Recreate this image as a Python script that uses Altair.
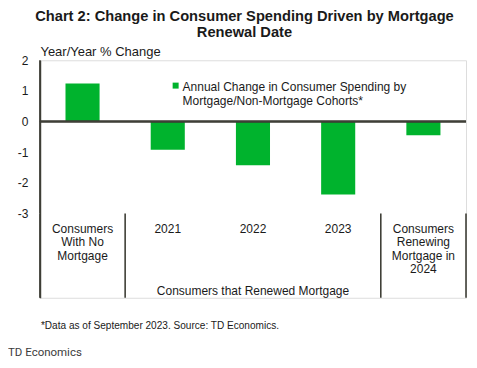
import altair as alt
import pandas as pd

# ---- data ----
CATEGORIES = ["Consumers\nWith No\nMortgage", "2021", "2022", "2023",
              "Consumers\nRenewing\nMortgage in\n2024"]
VALUES = [1.24, -0.92, -1.43, -2.38, -0.45]
SERIES = "Annual Change in Consumer Spending by|Mortgage/Non-Mortgage Cohorts*"
GROUP_LABEL = "Consumers that Renewed Mortgage"
GROUP_CENTER = "2022"
SEPARATORS = [0, 1, 4, 5]          # boundaries between category groups (index units)
Y_TICKS = [-3, -2, -1, 0, 1, 2]
TITLE = ["Chart 2: Change in Consumer Spending Driven by Mortgage", "Renewal Date"]
Y_TITLE = "Year/Year % Change"
FOOTNOTE = "*Data as of September 2023. Source: TD Economics."
SOURCE = "TD Economics"

# ---- style ----
FONT = "Liberation Sans, Arial, sans-serif"
GREEN = "#00b32d"
INK = "#1a1a1a"
LINE = "#3f3f37"
Y_MIN = -5.75
Y_MAX = 2
W, H = 427, 238

bars_df = pd.DataFrame({"cat": CATEGORIES, "value": VALUES, "series": [SERIES] * len(VALUES)})
labels_df = pd.DataFrame({"cat": CATEGORIES})
group_df = pd.DataFrame({"cat": [GROUP_CENTER], "text": [GROUP_LABEL]})
sep_df = pd.DataFrame({"pos": SEPARATORS})
axis_df = pd.DataFrame({"pos": [0]})

x_enc = alt.X("cat:N", sort=CATEGORIES,
              scale=alt.Scale(paddingInner=0.6, paddingOuter=0.3), axis=None)
pos_enc = alt.X("pos:Q", scale=alt.Scale(domain=[0, 5], nice=False, zero=False), axis=None)
y_scale = alt.Scale(domain=[Y_MIN, Y_MAX], nice=False, zero=False)

bars = alt.Chart(bars_df).mark_bar().encode(
    x=x_enc,
    y=alt.Y("value:Q", scale=y_scale,
            axis=alt.Axis(values=Y_TICKS, ticks=False, grid=False, domain=True,
                          domainColor=LINE, domainWidth=1.6,
                          labelFont=FONT, labelFontSize=12, labelColor=INK,
                          labelPadding=12, labelExpr="'' + datum.value",
                          title=Y_TITLE, titleAngle=0, titleAlign="left",
                          titleBaseline="alphabetic", titleX=0, titleY=-4.5,
                          titleFont=FONT, titleFontSize=13,
                          titleFontWeight="normal", titleColor=INK)),
    color=alt.Color("series:N", scale=alt.Scale(range=[GREEN]),
                    legend=alt.Legend(orient="none", legendX=130, legendY=24.5,
                                      title=None, padding=0,
                                      symbolType="M-1,-2.7L1,-2.7L1,-0.7L-1,-0.7Z",
                                      symbolSize=36, symbolStrokeWidth=0,
                                      labelExpr="split(datum.label, '|')",
                                      labelBaseline="alphabetic",
                                      labelFont=FONT, labelFontSize=12,
                                      labelColor=INK, labelOffset=1,
                                      labelLimit=400)),
)

zero = alt.Chart(bars_df).mark_rule(color=LINE, strokeWidth=1.5).encode(
    y=alt.datum(0)
)

cat_labels = alt.Chart(labels_df).mark_text(
    font=FONT, fontSize=12, color=INK, lineBreak="\n", lineHeight=13.5,
    baseline="alphabetic", align="center"
).encode(x=x_enc, y=alt.datum(-3.63), text="cat:N")

group_label = alt.Chart(group_df).mark_text(
    font=FONT, fontSize=12, color=INK, baseline="alphabetic", align="center"
).encode(x=x_enc, y=alt.datum(-5.65), text="text:N")

seps = alt.Chart(sep_df).mark_rule(color=LINE, strokeWidth=1.6).encode(
    x=pos_enc, y=alt.datum(-3), y2=alt.datum(Y_MIN),
)

axis_line = alt.Chart(axis_df).mark_rule(color=LINE, strokeWidth=1.6).encode(
    x=pos_enc, y=alt.datum(Y_MAX), y2=alt.datum(-3),
)

foot = alt.Chart(group_df).mark_text(
    text=FOOTNOTE, font=FONT, fontSize=10.1, color=INK, align="left", baseline="alphabetic"
).encode(x=alt.value(1), y=alt.value(269.5))

source = alt.Chart(group_df).mark_text(
    text=SOURCE, font="Roboto, sans-serif", fontSize=11.5, color="#3c3c3c",
    align="left", baseline="alphabetic"
).encode(x=alt.value(-32), y=alt.value(296))

chart = alt.layer(bars, zero, cat_labels, group_label, seps, axis_line, foot, source).resolve_scale(
    x="independent"
).properties(
    width=W, height=H,
    padding={"left": 0, "top": 0, "right": 2, "bottom": 0},
    title=alt.TitleParams(text=TITLE, font=FONT, fontSize=14.7, fontWeight="bold",
                          color=INK, anchor="middle", dx=-8.5, lineHeight=16.5,
                          offset=6),
).configure_view(stroke=None).configure(background="white")

chart.save("out.html", embed_options={"renderer": "svg", "actions": False})
